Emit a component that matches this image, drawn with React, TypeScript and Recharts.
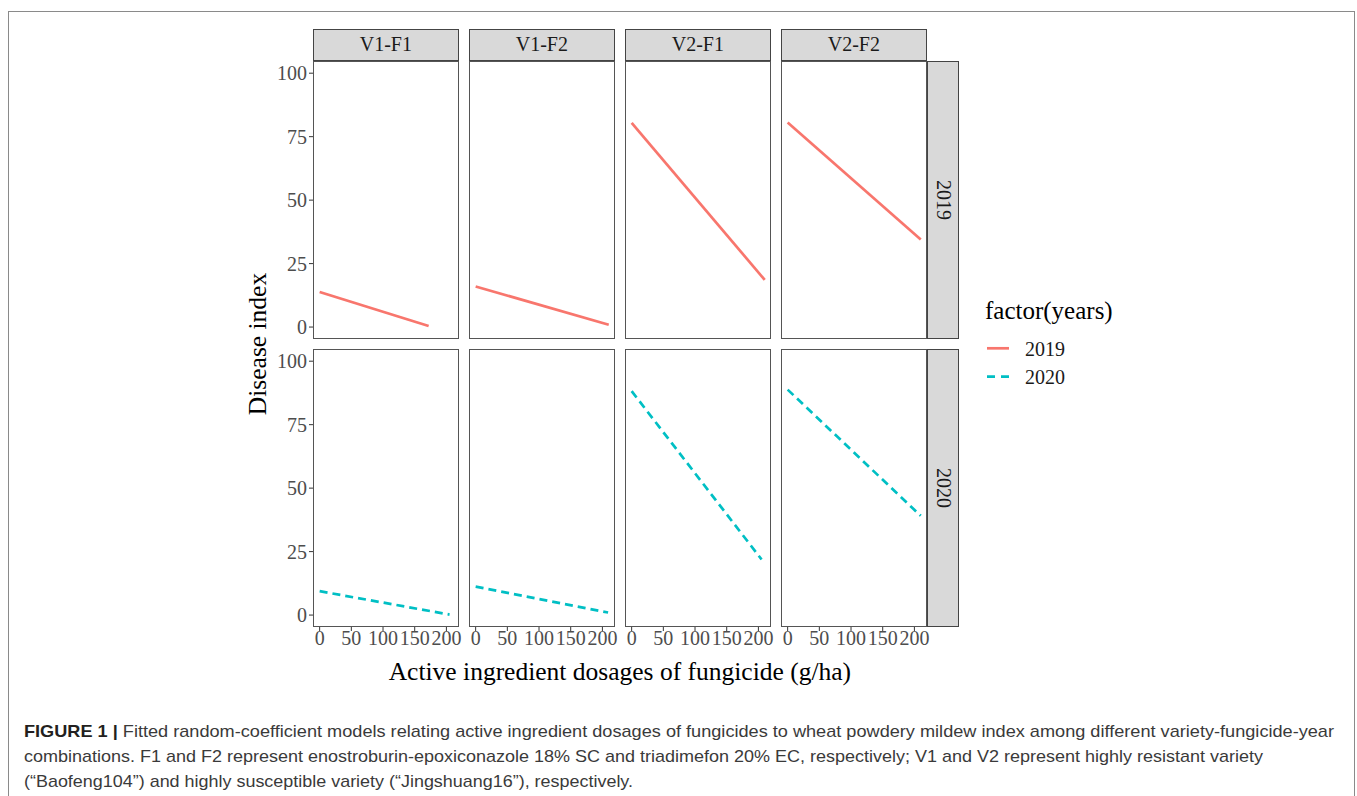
import React from 'react';
import { LineChart, Line, XAxis, YAxis } from 'recharts';

// ---------- data ----------
const PANEL_LABELS = ['V1-F1', 'V1-F2', 'V2-F1', 'V2-F2'];
const YEAR_LABELS = ['2019', '2020'];
const X_TICKS = [0, 50, 100, 150, 200];
const Y_TICKS = [0, 25, 50, 75, 100];

// fitted line endpoints per panel (dose g/ha, disease index)
const DOSE_START_2019 = [0, 0, 0, 0];
const DOSE_END_2019 = [172, 210, 210, 210];
const INDEX_START_2019 = [13.8, 16.0, 80.4, 80.6];
const INDEX_END_2019 = [0.4, 0.9, 18.6, 34.5];

const DOSE_START_2020 = [0, 0, 0, 0];
const DOSE_END_2020 = [205, 209, 205, 210];
const INDEX_START_2020 = [9.4, 11.2, 88.2, 88.8];
const INDEX_END_2020 = [0.2, 1.0, 21.9, 39.1];

const COLORS = ['#F8766D', '#00BFC4'];
const DASHES = [undefined, '8 5'];

const X_DOMAIN: [number, number] = [-10.5, 220.5];
const Y_DOMAIN: [number, number] = [-4.7, 104.8];

// ---------- layout ----------
const PANEL_LEFT0 = 312.7;
const PANEL_W = 146.4;
const PANEL_STEP = 156.0;
const ROW_TOPS = [60.7, 349];
const PANEL_H = 278;
const STRIP_TOP = 29.3;
const STRIP_W = 32;
const Y_AXIS_W = 60;
const X_AXIS_H = 40;
const RIGHT_PAD = 14;

const SERIF = '"Liberation Serif", "Times New Roman", serif';

function seriesFor(row: number, col: number) {
  if (row === 0) {
    return [
      { x: DOSE_START_2019[col], y: INDEX_START_2019[col] },
      { x: DOSE_END_2019[col], y: INDEX_END_2019[col] },
    ];
  }
  return [
    { x: DOSE_START_2020[col], y: INDEX_START_2020[col] },
    { x: DOSE_END_2020[col], y: INDEX_END_2020[col] },
  ];
}

const tickStyle = { fill: '#4D4D4D', fontSize: 20, fontFamily: SERIF };

function Panel({ row, col }: { row: number; col: number }) {
  const showY = col === 0;
  const showX = row === 1;
  const panelLeft = PANEL_LEFT0 + col * PANEL_STEP;
  const top = ROW_TOPS[row];
  const w = PANEL_W + (showY ? Y_AXIS_W : 0) + RIGHT_PAD;
  const h = PANEL_H + (showX ? X_AXIS_H : 0);
  return (
    <>
      <div style={{ position: 'absolute', left: panelLeft - (showY ? Y_AXIS_W : 0), top }}>
        <LineChart width={w} height={h} margin={{ top: 0, right: RIGHT_PAD, bottom: 0, left: 0 }}>
          <XAxis
            type="number"
            dataKey="x"
            domain={X_DOMAIN}
            ticks={X_TICKS}
            allowDataOverflow
            hide={!showX}
            height={X_AXIS_H}
            axisLine={false}
            tickLine={{ stroke: '#333333', strokeWidth: 1 }}
            tickSize={4}
            tickMargin={0}
            interval={0}
            tick={tickStyle}
          />
          <YAxis
            type="number"
            dataKey="y"
            domain={Y_DOMAIN}
            ticks={Y_TICKS}
            allowDataOverflow
            hide={!showY}
            width={Y_AXIS_W}
            axisLine={false}
            tickLine={{ stroke: '#333333', strokeWidth: 1 }}
            tickSize={4}
            tickMargin={2}
            interval={0}
            tick={tickStyle}
          />
          <Line
            data={seriesFor(row, col)}
            dataKey="y"
            type="linear"
            stroke={COLORS[row]}
            strokeWidth={2.7}
            strokeDasharray={DASHES[row]}
            dot={false}
            activeDot={false}
            isAnimationActive={false}
          />
        </LineChart>
      </div>
      <div
        style={{
          position: 'absolute',
          left: panelLeft,
          top,
          width: PANEL_W,
          height: PANEL_H,
          border: '1px solid #555555',
          boxSizing: 'border-box',
          pointerEvents: 'none',
        }}
      />
    </>
  );
}

export default function App() {
  const panels: JSX.Element[] = [];
  for (let r = 0; r < 2; r++) {
    for (let c = 0; c < 4; c++) {
      panels.push(<Panel key={`${r}-${c}`} row={r} col={c} />);
    }
  }
  const rightEdge = PANEL_LEFT0 + 3 * PANEL_STEP + PANEL_W;
  return (
    <div
      style={{
        position: 'absolute',
        left: 0,
        top: 0,
        width: 1357,
        height: 796,
        overflow: 'hidden',
        background: '#ffffff',
        fontFamily: SERIF,
      }}
    >
      {/* outer figure frame */}
      <div
        style={{
          position: 'absolute',
          left: 8,
          top: 11,
          width: 1347,
          height: 810,
          border: '1.5px solid #8a8a8a',
          boxSizing: 'border-box',
        }}
      />

      {panels}

      {/* top strips */}
      {PANEL_LABELS.map((lab, c) => (
        <div
          key={lab}
          style={{
            position: 'absolute',
            left: PANEL_LEFT0 + c * PANEL_STEP,
            top: STRIP_TOP,
            width: PANEL_W,
            height: ROW_TOPS[0] - STRIP_TOP,
            background: '#D9D9D9',
            border: '1px solid #444444',
            boxSizing: 'border-box',
            display: 'flex',
            alignItems: 'center',
            justifyContent: 'center',
            fontSize: 20,
            color: '#1A1A1A',
          }}
        >
          {lab}
        </div>
      ))}

      {/* right strips */}
      {YEAR_LABELS.map((lab, r) => (
        <div
          key={lab}
          style={{
            position: 'absolute',
            left: rightEdge,
            top: ROW_TOPS[r],
            width: STRIP_W,
            height: PANEL_H,
            background: '#D9D9D9',
            border: '1px solid #444444',
            boxSizing: 'border-box',
            display: 'flex',
            alignItems: 'center',
            justifyContent: 'center',
            fontSize: 20,
            color: '#1A1A1A',
          }}
        >
          <span style={{ writingMode: 'vertical-rl' }}>{lab}</span>
        </div>
      ))}

      {/* axis titles */}
      <div
        style={{
          position: 'absolute',
          left: 258,
          top: (ROW_TOPS[0] + ROW_TOPS[1] + PANEL_H) / 2,
          transform: 'translate(-50%, -50%) rotate(-90deg)',
          fontSize: 25.5,
          color: '#000',
          whiteSpace: 'nowrap',
        }}
      >
        Disease index
      </div>
      <div
        style={{
          position: 'absolute',
          left: (PANEL_LEFT0 + rightEdge) / 2,
          top: 672,
          transform: 'translate(-50%, -50%)',
          fontSize: 25.5,
          color: '#000',
          whiteSpace: 'nowrap',
        }}
      >
        Active ingredient dosages of fungicide (g/ha)
      </div>

      {/* legend */}
      <svg style={{ position: 'absolute', left: 975, top: 295 }} width={170} height={100}>
        <text x={10} y={24} fontFamily={SERIF} fontSize={25} fill="#000">
          factor(years)
        </text>
        {YEAR_LABELS.map((lab, i) => (
          <g key={lab}>
            <line
              x1={12}
              x2={34}
              y1={53.3 + i * 28.4}
              y2={53.3 + i * 28.4}
              stroke={COLORS[i]}
              strokeWidth={2.7}
              strokeDasharray={i === 1 ? '8 6' : undefined}
            />
            <text x={50} y={60.5 + i * 28.4} fontFamily={SERIF} fontSize={20} fill="#1A1A1A">
              {lab}
            </text>
          </g>
        ))}
      </svg>

      {/* caption */}
      <svg style={{ position: 'absolute', left: 0, top: 700 }} width={1357} height={96}>
        <g fontFamily='"Liberation Sans Narrow", "Liberation Sans", Arial, sans-serif' fontSize={17} fill="#3a3a3a">
          <text x={24} y={37} textLength={1310} lengthAdjust="spacingAndGlyphs">
            <tspan fontWeight="bold" fill="#231F20">FIGURE 1 | </tspan>
            Fitted random-coefficient models relating active ingredient dosages of fungicides to wheat powdery mildew index among different variety-fungicide-year
          </text>
          <text x={24} y={62} textLength={1239} lengthAdjust="spacingAndGlyphs">
            combinations. F1 and F2 represent enostroburin-epoxiconazole 18% SC and triadimefon 20% EC, respectively; V1 and V2 represent highly resistant variety
          </text>
          <text x={24} y={87} textLength={609} lengthAdjust="spacingAndGlyphs">
            (“Baofeng104”) and highly susceptible variety (“Jingshuang16”), respectively.
          </text>
        </g>
      </svg>
    </div>
  );
}
